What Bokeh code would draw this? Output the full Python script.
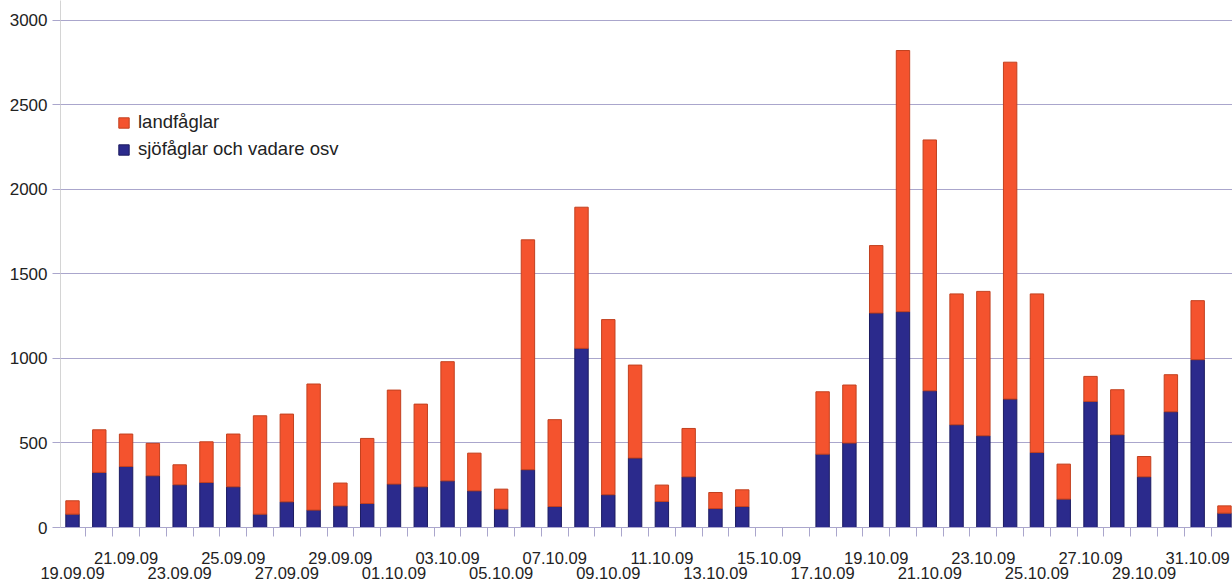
from bokeh.plotting import figure
from bokeh.models import (ColumnDataSource, Range1d, FixedTicker, LinearAxis,
                          Legend, LegendItem)
from bokeh.embed import file_html
from bokeh.resources import INLINE

# ---- data ----
dates = ["19.09.09", "20.09.09", "21.09.09", "22.09.09", "23.09.09", "24.09.09",
         "25.09.09", "26.09.09", "27.09.09", "28.09.09", "29.09.09", "30.09.09",
         "01.10.09", "02.10.09", "03.10.09", "04.10.09", "05.10.09", "06.10.09",
         "07.10.09", "08.10.09", "09.10.09", "10.10.09", "11.10.09", "12.10.09",
         "13.10.09", "14.10.09", "15.10.09", "16.10.09", "17.10.09", "18.10.09",
         "19.10.09", "20.10.09", "21.10.09", "22.10.09", "23.10.09", "24.10.09",
         "25.10.09", "26.10.09", "27.10.09", "28.10.09", "29.10.09", "30.10.09",
         "31.10.09", "01.11.09"]
sjofaglar = [79, 326, 361, 306, 253, 266, 241, 79, 152, 103, 128, 142,
             257, 241, 276, 217, 109, 342, 124, 1060, 194, 411, 154, 300,
             112, 124, 0, 0, 434, 500, 1269, 1277, 809, 608, 543, 760,
             444, 168, 746, 549, 300, 685, 993, 85]
totals = [158, 578, 553, 498, 371, 507, 553, 661, 671, 849, 263, 527,
          813, 730, 981, 440, 227, 1702, 638, 1895, 1230, 961, 251, 586,
          207, 223, 0, 0, 803, 843, 1668, 2822, 2293, 1382, 1397, 2753,
          1382, 375, 894, 815, 420, 904, 1342, 128]
landfaglar = [t - s for t, s in zip(totals, sjofaglar)]
series_names = ["landfåglar", "sjöfåglar och vadare osv"]
y_ticks = [0, 500, 1000, 1500, 2000, 2500, 3000]

ORANGE = "#f4532e"
BLUE = "#2b2a8c"
GRID = "#aaa6cc"
FONT = "Liberation Sans"

x = list(range(len(dates)))
src = ColumnDataSource(dict(x=x, sea=sjofaglar, land=landfaglar))

p = figure(width=1232, height=581, output_backend="svg", toolbar_location=None,
           x_range=Range1d(-0.448, 43.30), y_range=Range1d(0, 3118),
           min_border_left=60, min_border_right=0, min_border_top=0,
           min_border_bottom=0)
p.outline_line_color = None
p.background_fill_color = "white"
p.border_fill_color = "white"

r = p.vbar_stack(["sea", "land"], x="x", width=0.5, source=src,
                 fill_color=[BLUE, ORANGE], line_color=["#1c1b60", "#c2401f"],
                 line_width=1)

# y axis
p.yaxis.ticker = FixedTicker(ticks=y_ticks)
p.yaxis.major_tick_out = 8
p.yaxis.major_tick_in = 0
p.yaxis.major_tick_line_color = GRID
p.yaxis.minor_tick_line_color = None
p.yaxis.axis_line_color = "#d4d4d4"
p.yaxis.major_label_text_font = FONT
p.yaxis.major_label_text_font_size = "17px"
p.yaxis.major_label_text_color = "#222222"
p.yaxis.major_label_standoff = 5

p.xgrid.visible = False
p.ygrid.grid_line_color = GRID
p.ygrid.grid_line_width = 1

# x axis: upper row of labels + boundary ticks
upper = list(range(2, len(dates), 4))
lower = list(range(0, len(dates) - 1, 4))
bounds = [i - 0.5 for i in range(len(dates) + 1)]

ax1 = p.xaxis[0]
ax1.ticker = FixedTicker(ticks=upper, minor_ticks=bounds)
ax1.major_label_overrides = {i: dates[i] for i in upper}
ax1.major_tick_out = 0
ax1.major_tick_in = 0
ax1.minor_tick_out = 9
ax1.minor_tick_in = 0
ax1.minor_tick_line_color = GRID
ax1.axis_line_color = GRID
ax1.major_label_standoff = 15
ax1.major_label_text_font = FONT
ax1.major_label_text_font_size = "16.5px"
ax1.major_label_text_color = "#222222"

ax2 = LinearAxis(ticker=FixedTicker(ticks=lower, minor_ticks=[]),
                 major_label_overrides={i: dates[i] for i in lower},
                 axis_line_color=None, major_tick_line_color=None,
                 minor_tick_line_color=None, major_tick_out=0, major_tick_in=0,
                 major_label_standoff=0, major_label_text_font=FONT,
                 major_label_text_font_size="16.5px",
                 major_label_text_color="#222222")
p.add_layout(ax2, "below")

legend = Legend(items=[LegendItem(label=series_names[0], renderers=[r[1]]),
                       LegendItem(label=series_names[1], renderers=[r[0]])],
                location=(57, 366), orientation="vertical")
legend.border_line_color = None
legend.background_fill_alpha = 0
legend.padding = 0
legend.margin = 0
legend.spacing = 3
legend.glyph_width = 13
legend.glyph_height = 13
legend.label_height = 24
legend.label_standoff = 8
legend.label_text_font = FONT
legend.label_text_font_size = "18.5px"
legend.label_text_color = "#222222"
p.add_layout(legend, "center")

open("out.html", "w").write(file_html(p, INLINE))
